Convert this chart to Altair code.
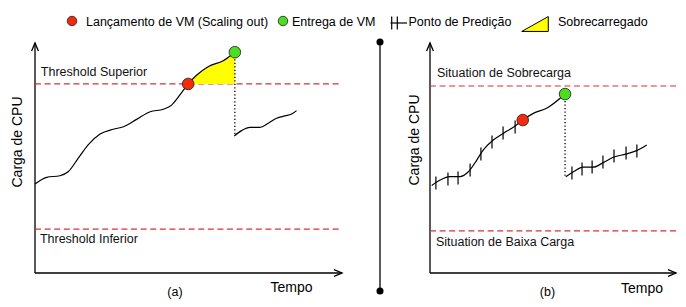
import altair as alt
import pandas as pd

# ---------------- data (time 0-100, CPU load 0-100) ----------------
# Panel (a): reactive scaling
a_curve_t = [0, 3.8, 8.1, 10.8, 14.1, 17.3, 21.2, 25.5, 28.8, 33.1, 37.5, 41.8, 44.5, 47.2, 49.9, 52.7, 56.4, 61.3, 65.1]
a_curve_load = [38.7, 41.6, 42.3, 44.0, 49.9, 55.7, 60.4, 62.5, 63.6, 66.8, 70.1, 71.2, 73.0, 77.4, 82.2, 86.1, 89.7, 92.3, 96.0]
a_after_t = [64.9, 67.3, 70.0, 73.3, 76.0, 78.7, 81.4, 83.6, 85.2]
a_after_load = [59.6, 61.9, 63.3, 63.3, 65.1, 67.3, 68.3, 69.1, 70.6]
a_launch = [49.9, 82.2]
a_deliver = [65.1, 96.0]
a_thresholds = [82.2, 19.1]
a_threshold_labels = ["Threshold Superior", "Threshold Inferior"]

# Panel (b): predictive scaling
b_curve_t = [0.7, 4.1, 8.1, 12.2, 15.6, 19.0, 21.7, 25.7, 29.8, 34.6, 37.7, 42.0, 47.4, 54.9]
b_curve_load = [38.0, 40.4, 41.9, 41.9, 44.0, 49.1, 53.5, 57.8, 60.7, 63.9, 66.5, 69.4, 71.6, 77.8]
b_after_t = [55.2, 58.3, 62.3, 66.4, 70.4, 74.5, 79.6, 84.0, 88.1]
b_after_load = [41.9, 44.0, 46.0, 46.0, 48.0, 50.3, 51.7, 53.2, 55.7]
b_pred_t = [2.4, 7.3, 11.4, 16.3, 20.7, 25.2, 29.7, 34.6, 57.7, 61.8, 65.9, 70.3, 74.8, 79.7, 84.1]
b_pred_load = [39.1, 40.9, 41.3, 44.8, 51.7, 57.0, 60.9, 63.5, 43.5, 45.2, 46.1, 48.3, 50.9, 52.2, 53.0]
b_launch = [37.7, 66.5]
b_deliver = [54.9, 77.8]
b_thresholds = [81.3, 18.3]
b_threshold_labels = ["Situation de Sobrecarga", "Situation de Baixa Carga"]

axis_extent = [0, 100]
legend_labels = ["Lançamento de VM (Scaling out)", "Entrega de VM", "Ponto de Predição", "Sobrecarregado"]
panel_labels = ["(a)", "(b)"]
axis_titles = ["Carga de CPU", "Tempo"]

# ---------------- styling ----------------
FONT = "Liberation Sans"
BLACK = "#000000"
RED_DASH = "#d3303a"
RED = "#f42a0c"
GREEN = "#4ade1e"
YELLOW = "#ffff00"

ys = alt.Scale(domain=axis_extent)
xa = alt.Scale(domain=axis_extent, range=[0, 307])
xb = alt.Scale(domain=axis_extent, range=[395, 641])

one = pd.DataFrame({"k": [0]})


def txt(label, x, y, size=12.5, align="left", angle=None):
    kw = dict(text=label, font=FONT, fontSize=size, align=align, baseline="middle", color=BLACK)
    if angle is not None:
        kw["angle"] = angle
    return alt.Chart(one).mark_text(**kw).encode(x=alt.value(x), y=alt.value(y))


def panel(xs, curve_t, curve_load, after_t, after_load, launch, deliver,
          thresholds, threshold_labels, label_dy, label_t, overload):
    X = lambda f: alt.X(f, type="quantitative", scale=xs, axis=None)
    Y = lambda f: alt.Y(f, type="quantitative", scale=ys, axis=None)

    ax = pd.DataFrame({"t0": [axis_extent[0]], "t1": [axis_extent[1]],
                       "l0": [axis_extent[0]], "l1": [axis_extent[1]]})
    axb = alt.Chart(ax)
    layers = [
        axb.mark_rule(color=BLACK, strokeWidth=1.3).encode(x=X("t0"), y=Y("l0"), y2="l1"),
        axb.mark_rule(color=BLACK, strokeWidth=1.3).encode(x=X("t0"), x2="t1", y=Y("l0")),
        axb.mark_point(shape="M-0.85,2L0,0L0.85,2", filled=False, size=64, stroke=BLACK,
                       strokeWidth=1.3, opacity=1).encode(x=X("t0"), y=Y("l1")),
        axb.mark_point(shape="M-2,-0.85L0,0L-2,0.85", filled=False, size=64, stroke=BLACK,
                       strokeWidth=1.3, opacity=1).encode(x=X("t1"), y=Y("l0")),
    ]
    th = pd.DataFrame({"t0": [axis_extent[0]] * 2, "t1": [axis_extent[1]] * 2,
                       "load": thresholds, "label": threshold_labels})
    layers.append(alt.Chart(th).mark_rule(color=RED_DASH, strokeWidth=1.2, strokeDash=[6, 3.6])
                  .encode(x=X("t0"), x2="t1", y=Y("load")))
    for i in range(2):
        layers.append(alt.Chart(th.iloc[[i]]).mark_text(font=FONT, fontSize=12.5, align="left",
                                                         baseline="middle", dy=label_dy[i], color="#111")
                      .encode(x=alt.X("tl:Q", scale=xs, axis=None), y=Y("load"), text="label:N")
                      .transform_calculate(tl=str(label_t[i])))
    curve = pd.DataFrame({"t": curve_t, "load": curve_load})
    if overload:
        ov = curve[curve["t"] >= launch[0]].copy()
        ov["base"] = thresholds[0]
        layers.append(alt.Chart(ov).mark_area(interpolate="monotone", color=YELLOW, opacity=1)
                      .encode(x=X("t"), y=Y("load"), y2="base:Q"))
    after = pd.DataFrame({"t": after_t, "load": after_load})
    drop = pd.DataFrame({"t": [deliver[0]], "top": [deliver[1]], "bottom": [after_load[0]]})
    layers.append(alt.Chart(drop).mark_rule(color=BLACK, strokeWidth=1.3, strokeDash=[1.3, 2.2])
                  .encode(x=X("t"), y=Y("top"), y2="bottom:Q"))
    layers.append(alt.Chart(curve).mark_line(interpolate="monotone", color=BLACK, strokeWidth=1.2)
                  .encode(x=X("t"), y=Y("load")))
    layers.append(alt.Chart(after).mark_line(interpolate="monotone", color=BLACK, strokeWidth=1.2)
                  .encode(x=X("t"), y=Y("load")))
    return layers


def dots(xs, launch, deliver):
    X = lambda f: alt.X(f, type="quantitative", scale=xs, axis=None)
    Y = lambda f: alt.Y(f, type="quantitative", scale=ys, axis=None)
    lp = pd.DataFrame({"t": [launch[0]], "load": [launch[1]]})
    dp = pd.DataFrame({"t": [deliver[0]], "load": [deliver[1]]})
    return [
        alt.Chart(lp).mark_point(shape="circle", filled=True, fill=RED, stroke="#1a1a1a",
                                 strokeWidth=0.8, size=135, opacity=1).encode(x=X("t"), y=Y("load")),
        alt.Chart(dp).mark_point(shape="circle", filled=True, fill=GREEN, stroke="#1a1a1a",
                                 strokeWidth=0.8, size=135, opacity=1).encode(x=X("t"), y=Y("load")),
    ]


layers_a = panel(xa, a_curve_t, a_curve_load, a_after_t, a_after_load, a_launch, a_deliver,
                 a_thresholds, a_threshold_labels, [-12, 10], [1.9, 1.6], True)
layers_a += dots(xa, a_launch, a_deliver)

layers_b = panel(xb, b_curve_t, b_curve_load, b_after_t, b_after_load, b_launch, b_deliver,
                 b_thresholds, b_threshold_labels, [-13, 11], [2.8, 2.4], False)
pred = pd.DataFrame({"t": b_pred_t, "load": b_pred_load})
layers_b.append(alt.Chart(pred).mark_tick(orient="vertical", size=13, thickness=1.2, color=BLACK, opacity=1)
                .encode(x=alt.X("t:Q", scale=xb, axis=None), y=alt.Y("load:Q", scale=ys, axis=None)))
layers_b += dots(xb, b_launch, b_deliver)

# decorations: separator, axis titles, panel labels, legend
deco = [
    alt.Chart(one).mark_rule(color=BLACK, strokeWidth=1.3).encode(x=alt.value(345), y=alt.value(-1), y2=alt.value(248)),
    alt.Chart(one).mark_point(shape="circle", filled=True, fill=BLACK, size=50, opacity=1).encode(x=alt.value(345), y=alt.value(-1)),
    alt.Chart(one).mark_point(shape="circle", filled=True, fill=BLACK, size=50, opacity=1).encode(x=alt.value(345), y=alt.value(248)),
    txt(axis_titles[0], -17, 99, size=14, align="center", angle=270),
    txt(axis_titles[0], 380, 97, size=14, align="center", angle=270),
    txt(axis_titles[1], 256.5, 244.5, size=14, align="center"),
    txt(axis_titles[1], 607, 246, size=14, align="center"),
    txt(panel_labels[0], 140, 248.5, size=12.5, align="center"),
    txt(panel_labels[1], 512.5, 249, size=12.5, align="center"),
    # legend
    alt.Chart(one).mark_point(shape="circle", filled=True, fill=RED, stroke="#1a1a1a", strokeWidth=0.8,
                              size=90, opacity=1).encode(x=alt.value(37), y=alt.value(-22)),
    txt(legend_labels[0], 51, -21),
    alt.Chart(one).mark_point(shape="circle", filled=True, fill=GREEN, stroke="#1a1a1a", strokeWidth=0.8,
                              size=90, opacity=1).encode(x=alt.value(248), y=alt.value(-22)),
    txt(legend_labels[1], 257, -21),
    alt.Chart(one).mark_rule(color=BLACK, strokeWidth=1.2).encode(x=alt.value(356.7), y=alt.value(-26.5), y2=alt.value(-13.5)),
    alt.Chart(one).mark_rule(color=BLACK, strokeWidth=1.2).encode(x=alt.value(362.3), y=alt.value(-26.5), y2=alt.value(-13.5)),
    alt.Chart(one).mark_rule(color=BLACK, strokeWidth=1.2).encode(x=alt.value(355.5), x2=alt.value(372), y=alt.value(-20)),
    txt(legend_labels[2], 373.5, -21),
    alt.Chart(one).mark_point(shape="M-1,0.56L1,-0.56L1,0.56Z", filled=True, fill=YELLOW, stroke=BLACK,
                              strokeWidth=1, size=707, opacity=1).encode(x=alt.value(500), y=alt.value(-19)),
    txt(legend_labels[3], 523, -21),
]

panel_a = alt.layer(*layers_a)
panel_b = alt.layer(*layers_b)
chart = (
    alt.layer(panel_a, panel_b, *deco)
    .resolve_scale(x="independent")
    .properties(width=641, height=230,
                padding={"left": 27, "top": 35, "right": 2, "bottom": 26},
                autosize=alt.AutoSizeParams(type="none"))
    .configure_view(stroke=None)
)

chart.save("out.html", embed_options={"renderer": "svg", "actions": False})
